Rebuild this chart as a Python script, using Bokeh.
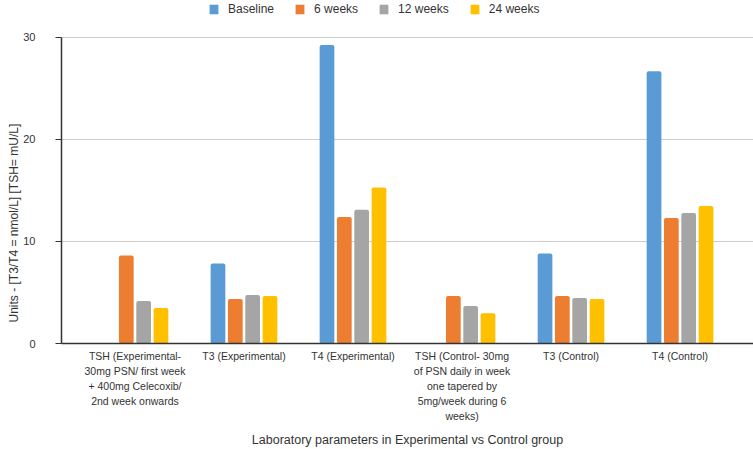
import math
from bokeh.plotting import figure
from bokeh.models import (ColumnDataSource, Range1d, FixedTicker, Legend, LegendItem, Title)
from bokeh.transform import dodge
from bokeh.embed import file_html
from bokeh.resources import INLINE

nan = float("nan")

categories = [
    "TSH (Experimental-\n30mg PSN/ first week\n+ 400mg Celecoxib/\n2nd week onwards",
    "T3 (Experimental)",
    "T4 (Experimental)",
    "TSH (Control- 30mg\nof PSN daily in week\none tapered by\n5mg/week during 6\nweeks)",
    "T3 (Control)",
    "T4 (Control)",
]
series_names = ["Baseline", "6 weeks", "12 weeks", "24 weeks"]
baseline = [nan, 7.84, 29.25, nan, 8.82, 26.66]
weeks6 = [8.62, 4.36, 12.40, 4.65, 4.65, 12.30]
weeks12 = [4.17, 4.75, 13.09, 3.68, 4.46, 12.79]
weeks24 = [3.48, 4.65, 15.27, 2.96, 4.36, 13.48]
y_ticks = [0, 10, 20, 30]

colors = ["#5b9bd5", "#ed7d31", "#a5a5a5", "#ffc000"]
FONT = "Liberation Sans"

src = ColumnDataSource(dict(
    x=list(range(len(categories))),
    baseline=baseline, w6=weeks6, w12=weeks12, w24=weeks24,
))

# frame spans the full top of the canvas; the axis line is bounded to 0..30
p = figure(width=753, height=449, output_backend="svg", toolbar_location=None,
           x_range=Range1d(-0.674, 5.674), y_range=Range1d(0, 33.6),
           min_border_left=61, min_border_right=0, min_border_top=0, min_border_bottom=105)
p.outline_line_color = None
p.background_fill_color = "white"
p.border_fill_color = "white"

cols = ["baseline", "w6", "w12", "w24"]
offsets = [-0.2385, -0.0795, 0.0795, 0.2385]
renderers = []
for c, off, col in zip(cols, offsets, colors):
    r = p.vbar(x=dodge("x", off), top=c, bottom=0, width=0.135, source=src,
               fill_color=col, line_color=None, border_radius=2)
    renderers.append(r)

# axes
p.xaxis.ticker = FixedTicker(ticks=list(range(len(categories))))
p.xaxis.major_label_overrides = {i: lab for i, lab in enumerate(categories)}
p.xaxis.major_tick_out = 0
p.xaxis.major_tick_in = 0
p.xaxis.minor_tick_line_color = None
p.xaxis.axis_line_color = "#333333"
p.xaxis.axis_line_width = 1.5
p.xaxis.major_label_text_font = FONT
p.xaxis.major_label_text_font_size = "10.5px"
p.xaxis.major_label_text_line_height = 1.25
p.xaxis.major_label_text_color = "#333333"
p.xaxis.major_label_standoff = 6
p.xaxis.axis_label = "Laboratory parameters in Experimental vs Control group"
p.xaxis.axis_label_text_font = FONT
p.xaxis.axis_label_text_font_size = "12.5px"
p.xaxis.axis_label_text_font_style = "normal"
p.xaxis.axis_label_text_color = "#333333"
p.xaxis.axis_label_standoff = 8

p.yaxis.ticker = FixedTicker(ticks=y_ticks)
p.yaxis.bounds = (0, 30)
p.yaxis.major_tick_out = 6
p.yaxis.major_tick_in = 0
p.yaxis.minor_tick_line_color = None
p.yaxis.axis_line_color = "#333333"
p.yaxis.major_tick_line_color = "#333333"
p.yaxis.axis_line_width = 1.5
p.yaxis.major_label_text_font = FONT
p.yaxis.major_label_text_font_size = "11px"
p.yaxis.major_label_text_color = "#333333"
p.yaxis.major_label_standoff = 20

p.xgrid.grid_line_color = None
p.ygrid.grid_line_color = "#cccccc"
p.ygrid.ticker = FixedTicker(ticks=y_ticks)

ytitle = Title(text="Units - [T3/T4 = nmol/L] [TSH= mU/L]", align="left", offset=21,
               standoff=0, text_font=FONT, text_font_size="12px",
               text_font_style="normal", text_color="#333333")
p.add_layout(ytitle, "left")

legend = Legend(items=[LegendItem(label=n, renderers=[r]) for n, r in zip(series_names, renderers)],
                orientation="horizontal", location=(147, 327),
                glyph_width=11, glyph_height=12, label_standoff=9, spacing=20,
                padding=0, margin=0, border_line_color=None, background_fill_alpha=0,
                label_text_font=FONT, label_text_font_size="12px", label_text_color="#333333")
p.add_layout(legend, "center")

open("out.html", "w").write(file_html(p, INLINE))
